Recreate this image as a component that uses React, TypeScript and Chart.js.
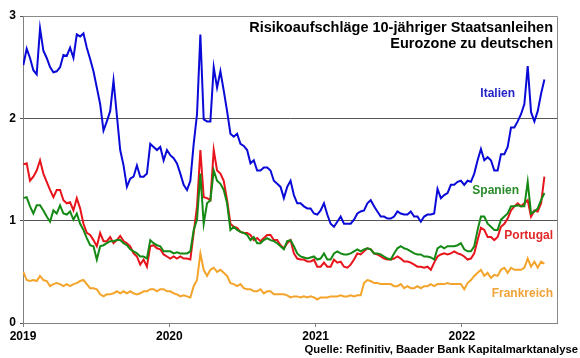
import React, { useEffect, useRef } from "react";
import { Chart, registerables } from "chart.js";

Chart.register(...registerables);

const FONT = '"Liberation Sans", Arial, sans-serif';

const yearTicks = [2019, 2020, 2021, 2022];
const yTicks = [0, 1, 2, 3];

// sampling grid: about every 8.3 days from 1 Jan 2019 (decimal years)
const SAMPLES_PER_YEAR = 43.8;

const italien = [
  2.52, 2.68, 2.59, 2.47, 2.43, 2.88, 2.66, 2.59, 2.50, 2.45,
  2.46, 2.50, 2.62, 2.61, 2.69, 2.59, 2.82, 2.80, 2.83, 2.69,
  2.58, 2.46, 2.30, 2.14, 1.88, 1.97, 2.07, 2.37, 2.03, 1.69,
  1.54, 1.33, 1.41, 1.43, 1.54, 1.43, 1.43, 1.46, 1.75, 1.72,
  1.69, 1.72, 1.59, 1.69, 1.64, 1.61, 1.56, 1.46, 1.35, 1.30,
  1.39, 1.75, 2.04, 2.82, 1.99, 1.97, 1.97, 2.50, 2.30, 2.46,
  2.27, 2.07, 1.85, 1.82, 1.85, 1.75, 1.73, 1.69, 1.56, 1.59,
  1.49, 1.49, 1.52, 1.52, 1.49, 1.39, 1.36, 1.33, 1.22,
  1.33, 1.39, 1.25, 1.17, 1.17, 1.14, 1.12, 1.12, 1.07, 1.06,
  1.10, 1.17, 1.06, 0.97, 0.94, 0.99, 1.04, 0.97, 0.97, 0.97,
  1.01, 1.07, 1.09, 1.10, 1.17, 1.20, 1.14, 1.09, 1.04, 1.04,
  1.02, 1.02, 1.04, 1.09, 1.07, 1.06, 1.06, 1.09, 1.04, 1.04,
  0.99, 1.04, 1.06, 1.06, 1.07, 1.31, 1.22, 1.25, 1.27, 1.35,
  1.35, 1.38, 1.39, 1.35, 1.39, 1.38, 1.46, 1.59, 1.70, 1.59,
  1.62, 1.59, 1.49, 1.49, 1.65, 1.65, 1.72, 1.91, 1.91, 1.97,
  2.04, 2.14, 2.51, 2.06, 1.97, 2.07, 2.24, 2.38,
];

const portugal = [
  1.55, 1.56, 1.39, 1.43, 1.49, 1.59, 1.46, 1.38, 1.30, 1.23,
  1.30, 1.30, 1.20, 1.17, 1.18, 1.10, 1.22, 1.12, 0.97, 0.88,
  0.86, 0.81, 0.75, 0.88, 0.80, 0.80, 0.84, 0.78, 0.81, 0.85,
  0.80, 0.78, 0.75, 0.68, 0.65, 0.57, 0.62, 0.55, 0.75, 0.76,
  0.73, 0.72, 0.67, 0.65, 0.63, 0.65, 0.63, 0.65, 0.63, 0.63,
  0.62, 0.88, 1.14, 1.69, 1.23, 1.22, 1.20, 1.69, 1.49, 1.46,
  1.39, 1.20, 0.97, 0.94, 0.93, 0.89, 0.88, 0.88, 0.86, 0.81,
  0.83, 0.80, 0.83, 0.86, 0.86, 0.81, 0.81, 0.76, 0.73,
  0.78, 0.81, 0.68, 0.63, 0.62, 0.62, 0.60, 0.60, 0.62, 0.55,
  0.55, 0.59, 0.55, 0.55, 0.62, 0.59, 0.60, 0.55, 0.54, 0.57,
  0.62, 0.68, 0.67, 0.70, 0.73, 0.72, 0.68, 0.67, 0.65, 0.63,
  0.62, 0.62, 0.63, 0.65, 0.63, 0.60, 0.60, 0.59, 0.57, 0.55,
  0.55, 0.54, 0.55, 0.52, 0.59, 0.65, 0.67, 0.68, 0.67, 0.68,
  0.70, 0.68, 0.67, 0.65, 0.62, 0.63, 0.68, 0.81, 0.93, 0.91,
  0.84, 0.84, 0.81, 0.84, 0.94, 0.97, 1.02, 1.10, 1.14, 1.17,
  1.14, 1.17, 1.20, 1.04, 1.10, 1.09, 1.17, 1.43,
];

const spanien = [
  1.22, 1.23, 1.14, 1.07, 1.15, 1.15, 1.10, 1.04, 0.99, 1.10,
  1.07, 1.15, 1.07, 1.06, 1.09, 1.01, 1.07, 0.97, 0.91, 0.83,
  0.76, 0.75, 0.62, 0.75, 0.76, 0.78, 0.80, 0.80, 0.81, 0.81,
  0.78, 0.76, 0.72, 0.70, 0.68, 0.65, 0.65, 0.63, 0.81, 0.78,
  0.76, 0.75, 0.70, 0.70, 0.70, 0.68, 0.69, 0.68, 0.68, 0.68,
  0.70, 0.91, 1.01, 1.46, 0.97, 1.17, 1.20, 1.49, 1.39, 1.36,
  1.30, 1.17, 0.91, 0.94, 0.91, 0.89, 0.88, 0.86, 0.81, 0.84,
  0.78, 0.78, 0.81, 0.83, 0.81, 0.80, 0.78, 0.75, 0.72,
  0.80, 0.81, 0.75, 0.68, 0.65, 0.64, 0.63, 0.64, 0.65, 0.62,
  0.63, 0.68, 0.62, 0.62, 0.68, 0.70, 0.68, 0.67, 0.67, 0.68,
  0.70, 0.72, 0.70, 0.72, 0.73, 0.72, 0.68, 0.68, 0.67, 0.65,
  0.63, 0.62, 0.68, 0.73, 0.75, 0.73, 0.72, 0.70, 0.68, 0.67,
  0.67, 0.65, 0.65, 0.64, 0.62, 0.73, 0.75, 0.73, 0.75, 0.75,
  0.75, 0.76, 0.78, 0.72, 0.70, 0.70, 0.75, 0.91, 1.04, 1.04,
  0.97, 0.94, 0.91, 0.91, 1.01, 1.04, 1.07, 1.14, 1.14, 1.15,
  1.14, 1.14, 1.38, 1.07, 1.09, 1.12, 1.20, 1.27,
];

const frankreich = [
  0.50, 0.42, 0.41, 0.42, 0.41, 0.46, 0.42, 0.41, 0.36, 0.38,
  0.39, 0.38, 0.36, 0.38, 0.36, 0.38, 0.39, 0.41, 0.42, 0.38,
  0.34, 0.34, 0.33, 0.28, 0.26, 0.28, 0.28, 0.29, 0.31, 0.29,
  0.31, 0.29, 0.31, 0.29, 0.28, 0.29, 0.31, 0.31, 0.33, 0.33,
  0.31, 0.33, 0.33, 0.31, 0.31, 0.29, 0.28, 0.26, 0.27, 0.26,
  0.25, 0.36, 0.42, 0.68, 0.52, 0.46, 0.52, 0.54, 0.50, 0.52,
  0.49, 0.46, 0.39, 0.38, 0.36, 0.38, 0.34, 0.33, 0.33, 0.31,
  0.31, 0.33, 0.29, 0.31, 0.31, 0.28, 0.28, 0.28, 0.28,
  0.27, 0.25, 0.26, 0.26, 0.25, 0.26, 0.25, 0.26, 0.25, 0.23,
  0.25, 0.25, 0.25, 0.26, 0.26, 0.26, 0.27, 0.26, 0.26, 0.27,
  0.26, 0.27, 0.27, 0.39, 0.42, 0.41, 0.39, 0.39, 0.38, 0.38,
  0.38, 0.38, 0.36, 0.36, 0.38, 0.34, 0.36, 0.34, 0.34, 0.36,
  0.34, 0.36, 0.36, 0.38, 0.36, 0.38, 0.38, 0.38, 0.39, 0.38,
  0.38, 0.38, 0.38, 0.33, 0.39, 0.42, 0.46, 0.49, 0.52, 0.46,
  0.49, 0.44, 0.47, 0.46, 0.52, 0.54, 0.49, 0.54, 0.52, 0.52,
  0.52, 0.54, 0.63, 0.55, 0.60, 0.54, 0.60, 0.58,
];

const titleLines = ["Risikoaufschläge 10-jähriger Staatsanleihen", "Eurozone zu deutschen"];
const sourceText = "Quelle: Refinitiv, Baader Bank Kapitalmarktanalyse";

const BLUE = "#0a0ad8";
const RED = "#e8141c";
const GREEN = "#148a14";
const ORANGE = "#f4a42a";

const seriesLabels = [
  { text: "Italien", color: "#2424c8", x: 515, y: 94 },
  { text: "Spanien", color: "#2a8a2a", x: 519, y: 191 },
  { text: "Portugal", color: "#e02828", x: 553, y: 236 },
  { text: "Frankreich", color: "#f0a236", x: 553, y: 294 },
];

const toPoints = (vals: number[]) =>
  vals.map((v, i) => ({ x: 2019 + (i + 0.1) / SAMPLES_PER_YEAR, y: v }));

const overlayPlugin = {
  id: "overlay",
  afterDraw(chart: any) {
    const { ctx, chartArea } = chart;
    ctx.save();
    // top & right frame
    ctx.strokeStyle = "#8a8a8a";
    ctx.lineWidth = 1;
    ctx.beginPath();
    ctx.moveTo(chartArea.left, chartArea.top + 0.5);
    ctx.lineTo(chartArea.right + 0.5, chartArea.top + 0.5);
    ctx.lineTo(chartArea.right + 0.5, chartArea.bottom);
    ctx.stroke();

    ctx.textAlign = "right";
    ctx.textBaseline = "middle";
    ctx.fillStyle = "#000";
    ctx.font = `bold 14.5px ${FONT}`;
    ctx.fillText(titleLines[0], 553, 28);
    ctx.fillText(titleLines[1], 553, 44);

    ctx.font = `bold 12px ${FONT}`;
    seriesLabels.forEach((l) => {
      ctx.fillStyle = l.color;
      ctx.fillText(l.text, l.x, l.y);
    });

    ctx.fillStyle = "#000";
    ctx.font = `bold 11.3px ${FONT}`;
    ctx.fillText(sourceText, 578, 350);
    ctx.restore();
  },
};

export default function App() {
  const ref = useRef<HTMLCanvasElement | null>(null);

  useEffect(() => {
    if (!ref.current) return;
    const chart = new Chart(ref.current, {
      type: "line",
      data: {
        datasets: [
          { label: "Spanien", data: toPoints(spanien), borderColor: GREEN, order: 0 },
          { label: "Portugal", data: toPoints(portugal), borderColor: RED, order: 1 },
          { label: "Italien", data: toPoints(italien), borderColor: BLUE, order: 2 },
          { label: "Frankreich", data: toPoints(frankreich), borderColor: ORANGE, order: 3 },
        ],
      },
      options: {
        responsive: false,
        animation: false,
        layout: { padding: { left: 0, right: 23, top: 16, bottom: 0 } },
        elements: {
          point: { radius: 0 },
          line: { tension: 0, borderWidth: 2, fill: false },
        },
        plugins: {
          legend: { display: false },
          tooltip: { enabled: false },
          title: { display: false },
        },
        scales: {
          x: {
            type: "linear",
            min: 2019,
            max: 2022.65,
            afterBuildTicks: (s: any) => {
              s.ticks = yearTicks.map((v) => ({ value: v }));
            },
            afterFit: (s: any) => {
              s.height = 35;
            },
            ticks: {
              callback: (v: any) => String(v),
              color: "#000",
              font: { family: FONT, size: 12, weight: "bold" },
              padding: 2,
              maxRotation: 0,
              autoSkip: false,
            },
            grid: { drawOnChartArea: false, drawTicks: true, tickLength: 4, color: "#808080" },
            border: { display: true, color: "#808080", width: 1 },
          },
          y: {
            min: 0,
            max: 3,
            afterBuildTicks: (s: any) => {
              s.ticks = yTicks.map((v) => ({ value: v }));
            },
            afterFit: (s: any) => {
              s.width = 23;
            },
            ticks: {
              callback: (v: any) => String(v),
              color: "#000",
              font: { family: FONT, size: 12, weight: "bold" },
              padding: 4,
            },
            grid: { color: "#555", drawTicks: true, tickLength: 3, lineWidth: 1 },
            border: { display: true, color: "#808080", width: 1 },
          },
        },
      } as any,
      plugins: [overlayPlugin],
    });
    return () => chart.destroy();
  }, []);

  return (
    <div style={{ position: "fixed", left: 0, top: 0, width: 580, height: 358, background: "#fff" }}>
      <canvas ref={ref} width={580} height={358} style={{ width: 580, height: 358 }} />
    </div>
  );
}
